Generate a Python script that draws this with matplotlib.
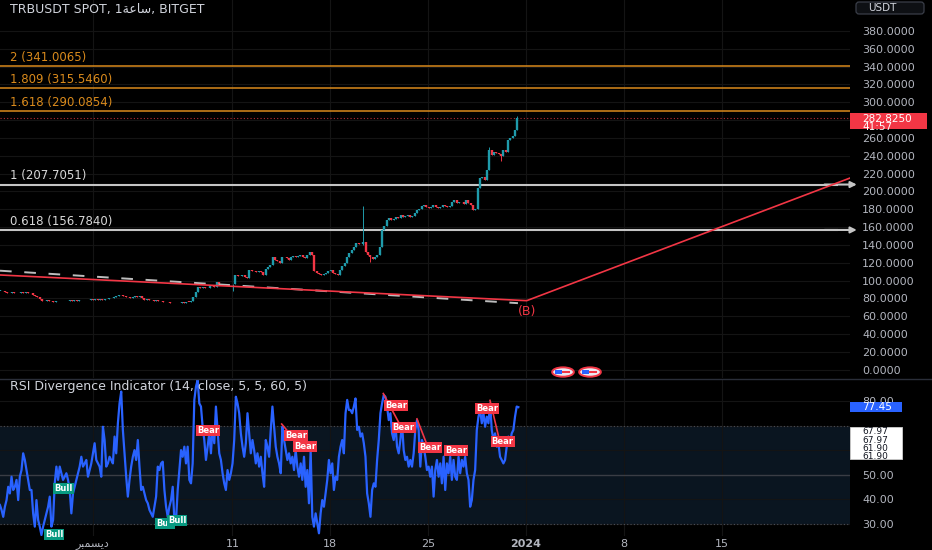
import matplotlib
matplotlib.use('Agg')
import matplotlib.pyplot as plt
import matplotlib.dates as mdates
import matplotlib.ticker as mticker
from matplotlib.transforms import IdentityTransform
from matplotlib.patches import Rectangle, Ellipse, FancyBboxPatch
from matplotlib.lines import Line2D
import numpy as np
import pandas as pd

# ---------------- data ----------------
symbol_title = "TRBUSDT SPOT, 1\uFE94\uFECB\uFE8E\uFEB3, BITGET"
rsi_title = "RSI Divergence Indicator (14, close, 5, 5, 60, 5)"

candle_start = '2023-11-24 09:00'
close = [
    88.7, 88.0, 87.2, 86.5, 86.0, 86.8, 86.2, 85.8, 86.5, 86.9,
    86.4, 87.0, 86.6, 85.9, 84.0, 83.2, 82.0, 79.5, 77.5, 77.0,
    77.8, 76.8, 77.4, 76.2, 76.9, 77.5, 76.8, 77.3, 76.6, 77.6,
    77.9, 77.2, 78.0, 77.4, 77.9, 78.4, 77.8, 78.5, 78.2, 78.9,
    78.4, 79.0, 78.6, 79.2, 78.8, 79.5, 79.0, 80.0, 80.6, 81.4,
    82.2, 83.6, 84.3, 82.6, 81.8, 81.2, 81.0, 81.9, 82.5, 81.7,
    83.0, 80.5, 78.6, 78.9, 78.0, 78.5, 77.6, 78.2, 77.3, 76.8,
    76.4, 75.6, 75.9, 75.0, 74.6, 75.2, 74.6, 75.4, 75.8, 75.3,
    76.2, 76.0, 77.0, 82.0, 87.6, 93.2, 91.8, 93.0, 92.0, 91.5,
    93.4, 94.3, 92.6, 98.8, 96.0, 95.0, 96.6, 95.4, 96.2, 95.8,
    96.0, 106.3, 104.8, 105.6, 106.3, 104.2, 102.6, 111.9, 110.5, 111.2,
    109.8, 111.0, 109.5, 106.3, 113.0, 114.9, 117.9, 126.8, 123.0, 121.5,
    119.4, 126.8, 126.0, 125.0, 123.1, 126.4, 127.5, 126.8, 128.0, 128.7,
    126.8, 125.6, 128.9, 132.4, 128.7, 111.0, 108.2, 107.3, 106.3, 107.0,
    108.2, 110.5, 111.9, 108.2, 107.0, 106.3, 111.9, 116.0, 120.0, 126.8,
    131.0, 134.5, 138.0, 141.8, 140.5, 141.0, 143.6, 132.4, 128.5, 126.8,
    124.5, 127.0, 128.7, 138.0, 157.0, 161.5, 168.0, 170.5, 168.0, 169.5,
    171.7, 170.4, 173.0, 171.7, 172.6, 173.5, 171.7, 172.4, 176.0, 179.2,
    180.0, 183.5, 184.8, 182.9, 181.5, 182.9, 184.8, 183.0, 181.1, 182.9,
    184.8, 183.8, 182.9, 183.7, 188.0, 190.4, 186.7, 188.5, 187.6, 186.0,
    190.4, 187.5, 184.8, 179.2, 180.5, 203.5, 214.7, 216.5, 212.8, 224.0,
    246.7, 241.0, 244.5, 242.9, 241.5, 240.0, 246.7, 244.5, 257.6, 259.5,
    262.5, 268.9, 282.825,
]
spike_index = [100, 156, 159, 210, 215, 222]
spike_high = [96.5, 184.0, 128.0, 250.0, 242.0, 284.5]
spike_low = [88.5, 140.0, 121.0, 224.0, 234.0, 276.0]

rsi_start = '2023-11-24 09:00'
rsi_end = '2023-12-31 11:00'
rsi_values = [
    37.7, 35.7, 32.9, 37.0, 39.7, 45.1, 42.4, 49.2, 43.8, 45.1,
    47.9, 39.7, 49.2, 51.9, 58.7, 56.0, 51.9, 47.9, 43.8, 43.8,
    34.3, 28.9, 39.7, 31.6, 28.9, 25.5, 28.9, 31.6, 34.3, 37.0,
    41.1, 28.9, 31.6, 46.5, 53.3, 47.9, 53.3, 50.6, 47.9, 49.2,
    50.6, 47.9, 43.8, 34.3, 42.4, 45.1, 47.9, 50.6, 53.3, 57.3,
    53.3, 54.6, 56.0, 49.2, 51.9, 54.6, 58.7, 62.8, 56.0, 54.6,
    53.3, 49.2, 69.5, 64.1, 53.3, 54.6, 57.3, 56.0, 54.6, 65.5,
    58.7, 70.9, 79.0, 83.8, 68.2, 58.7, 49.2, 41.1, 47.9, 53.3,
    57.3, 60.0, 56.0, 64.1, 53.3, 43.8, 45.1, 42.4, 39.7, 38.4,
    35.7, 34.3, 32.9, 37.0, 41.1, 53.3, 51.9, 54.6, 55.3, 43.8,
    37.0, 32.9, 37.0, 39.7, 45.1, 31.6,
    31.6, 43.8, 51.9, 60.0, 57.3, 61.4, 54.6, 61.4, 47.9, 46.5,
    54.6, 80.4, 85.8, 88.5, 79.0, 77.7, 69.5, 64.1, 56.0, 61.4,
    66.8, 58.7, 69.5, 62.8, 77.7, 68.2, 58.7, 56.0, 50.6, 46.5,
    43.8, 51.9, 47.9, 50.6, 54.6, 64.1, 81.7, 79.0, 75.0, 66.8,
    61.4, 57.3, 62.8, 75.0, 66.8, 58.7, 64.1, 60.0, 54.6, 58.7,
    53.3, 57.3, 50.6, 45.1, 64.1, 61.4, 57.3, 68.2, 77.7, 69.5,
    61.4, 57.3, 54.6, 50.6, 69.5, 64.1, 60.0, 56.0, 58.7, 54.6,
    57.3, 51.9, 60.0, 53.3, 49.2, 54.6, 47.9, 57.3, 45.1, 51.9,
    38.4, 60.0, 32.9, 28.9, 34.3, 30.2, 26.2, 34.3, 39.7, 37.0,
    42.4, 47.9, 56.0, 50.6, 54.6, 43.8, 49.2, 47.9, 57.3, 61.4,
    64.1, 58.7, 75.0, 80.4, 76.3,
    76.3, 75.0, 77.7, 81.0, 68.2, 69.5, 65.5, 66.8, 62.8, 57.3,
    42.4, 38.4, 32.9, 43.8, 46.5, 45.1, 56.0, 64.1, 75.0, 79.0,
    82.4, 81.7, 77.7, 72.2, 75.0, 66.8, 64.1, 70.9, 61.4, 58.7,
    64.1, 70.9, 60.0, 56.0, 57.3, 53.3, 56.0, 53.3, 58.7, 68.2,
    72.2, 68.2, 53.3, 64.1, 61.4, 57.3, 51.9, 53.3, 49.2, 53.3,
    41.1, 51.9, 56.0, 49.2, 54.6, 46.5, 57.3, 43.8, 54.6, 50.6,
    57.3, 47.9, 56.0, 49.2, 47.9, 57.3, 50.6, 56.0, 53.3, 57.3,
    50.6, 47.9, 37.0, 39.7, 47.9, 51.9, 68.2, 73.6, 76.3, 70.9,
    75.0, 69.5, 73.6, 70.9, 79.0, 68.2, 64.1, 66.8, 61.4, 62.8,
    57.3, 56.0, 54.6, 56.0, 61.4, 65.5, 62.8, 66.8, 68.2, 73.6,
    77.7, 77.45,
]

fib_ratios = ['2', '1.809', '1.618', '1', '0.618']
fib_prices = [341.0065, 315.5460, 290.0854, 207.7051, 156.7840]

wave_dates = ['2023-11-24 09:10', '2024-01-01 01:20', '2024-01-24 04:20']
wave_prices = [106.3, 77.5, 215.0]
dash_dates = ['2023-11-24 09:10', '2023-12-31 10:20']
dash_prices = [111.1, 74.7]
wave_label = '(B)'
wave_label_date = '2024-01-01 01:20'
wave_label_price = 65.9

event_dates = ['2024-01-03 15:40', '2024-01-05 14:00']
event_level = -2.5

bear_label_dates = ['2023-12-09 06:15', '2023-12-15 13:20', '2023-12-16 04:50',
                    '2023-12-22 17:00', '2023-12-23 06:00', '2023-12-25 03:20',
                    '2023-12-27 00:00', '2023-12-29 05:15', '2023-12-30 08:00']
bear_label_values = [67.8, 65.8, 61.3, 78.0, 69.2, 61.1, 59.7, 77.0, 63.5]
bull_label_dates = ['2023-11-28 22:20', '2023-11-28 06:00', '2023-12-06 04:30', '2023-12-07 01:00']
bull_label_values = [44.6, 25.9, 30.0, 31.3]
bear_line_start_dates = ['2023-12-14 12:45', '2023-12-21 19:10', '2023-12-24 05:00', '2023-12-29 10:20']
bear_line_start_values = [70.6, 83.0, 72.7, 80.2]
bear_line_end_dates = ['2023-12-15 20:10', '2023-12-23 00:00', '2023-12-24 22:20', '2023-12-30 02:00']
bear_line_end_values = [61.7, 70.2, 62.1, 64.6]

readout_values = [67.97, 67.97, 61.90, 61.90]
countdown = '41:57'

price_ticks = list(range(0, 381, 20))
price_hidden_ticks = [280]          # covered by the last-price tag
rsi_ticks = [30, 40, 50, 60, 70, 80]
rsi_hidden_ticks = [60, 70]         # covered by the readout box
time_tick_dates = ['2023-12-01', '2023-12-11', '2023-12-18', '2023-12-25',
                   '2024-01-01', '2024-01-08', '2024-01-15']
time_tick_labels = ['\uFEAE\uFE92\uFEE4\uFEB4\uFEF3\uFEA9', '11', '18', '25', '2024', '8', '15']

view_start = '2023-11-24 09:10'
view_end = '2024-01-24 04:20'

# ---------------- helpers ----------------
def dn(s):
    return mdates.date2num(pd.Timestamp(s).to_pydatetime())

def dnl(lst):
    return np.array([dn(s) for s in lst])

W, H = 932, 550
BG = '#000000'
TXT = '#b2b5be'
RED = '#f23645'
GREEN = '#089981'
UP = '#1f9bab'
ORANGE = '#d98a1c'
GRAY_LINE = '#c4c4c4'
BLUE = '#2962ff'
GRID = '#141414'

fig = plt.figure(figsize=(W / 100, H / 100), dpi=100)
fig.patch.set_facecolor(BG)
ax = fig.add_axes([0, 1 - 378 / H, 850 / W, 378 / H])
axr = fig.add_axes([0, 1 - 536 / H, 850 / W, 157 / H])
for a in (ax, axr):
    a.set_facecolor(BG)
    for s in a.spines.values():
        s.set_visible(False)
    a.set_xlim(dn(view_start), dn(view_end))
    a.set_xticks(dnl(time_tick_dates))
    a.grid(True, color=GRID, lw=0.8)
    a.set_axisbelow(True)

# ---------------- price panel ----------------
ax.set_ylim(-9.2, 414.6)
ct = mdates.date2num(pd.date_range(candle_start, periods=len(close), freq='4h').to_pydatetime())
c = np.array(close)
o = np.r_[c[0], c[:-1]]
hi = np.maximum(o, c)
lo = np.minimum(o, c)
wh = hi.copy()
wl = lo.copy()
for k, h_, l_ in zip(spike_index, spike_high, spike_low):
    wh[k] = max(wh[k], h_)
    wl[k] = min(wl[k], l_)
cols = np.where(c >= o, UP, RED)
ax.vlines(ct, wl, wh, colors=cols, lw=0.7, zorder=3)
ax.vlines(ct, lo, np.maximum(hi, lo + 0.6), colors=cols, lw=1.7, zorder=3)

for ratio, lvl in zip(fib_ratios, fib_prices):
    if float(ratio) > 1.5:
        col, lw = ORANGE, 1.1
        ax.axhline(lvl, color=col, lw=lw, zorder=2)
    else:
        col, lw = GRAY_LINE, 1.5
        ax.axhline(lvl, xmax=0.985, color=col, lw=lw, zorder=2)
        ax.annotate('', xy=(1.008, lvl), xycoords=('axes fraction', 'data'),
                    xytext=(0.97, lvl), textcoords=('axes fraction', 'data'),
                    arrowprops=dict(arrowstyle='-|>', color=col, lw=lw, mutation_scale=9,
                                    shrinkA=0, shrinkB=0),
                    annotation_clip=False, zorder=2)
    ax.annotate(f'{ratio} ({lvl:.4f})', xy=(10 / 850, lvl), xycoords=('axes fraction', 'data'),
                xytext=(0, 1.5), textcoords='offset points', ha='left', va='bottom',
                fontsize=8.5, color=col if col == ORANGE else '#d8d8d8')

last_price = close[-1]
ax.axhline(last_price, color=RED, lw=0.8, ls=(0, (1, 2)), alpha=0.75, zorder=1)

ax.plot(dnl(dash_dates), dash_prices, color='#bdbdbd', lw=1.4, dashes=(6, 6.5), zorder=4)
ax.plot(dnl(wave_dates), wave_prices, color=RED, lw=1.2, zorder=4)
ax.text(dn(wave_label_date), wave_label_price, wave_label, color=RED, fontsize=9,
        ha='center', va='center')

for d in event_dates:
    x = dn(d)
    ax.add_patch(Ellipse((x, event_level), 1.55, 10.5, facecolor='#e9e9f2',
                         edgecolor=RED, lw=1.4, zorder=5))
    ax.add_patch(Rectangle((x - 0.55, event_level - 2.6), 0.45, 5.2,
                           facecolor=BLUE, edgecolor='none', zorder=6))
    ax.add_patch(Rectangle((x - 0.05, event_level - 0.6), 0.55, 1.2,
                           facecolor=RED, edgecolor='none', zorder=6))

ax.yaxis.tick_right()
ax.set_yticks(price_ticks)
ax.yaxis.set_major_formatter(mticker.FuncFormatter(
    lambda v, p: '' if round(v) in price_hidden_ticks else f'{v:.4f}'))
ax.tick_params(axis='y', length=0, pad=8.6, labelsize=8, labelcolor=TXT)
ax.tick_params(axis='x', length=0, labelbottom=False)

# ---------------- RSI panel ----------------
axr.set_ylim(25.1, 88.9)
axr.axhspan(30, 70, facecolor='#0a1520', edgecolor='none', zorder=0)
axr.axhline(70, color='#4a4e58', lw=0.8, ls=(0, (1, 2)), zorder=1)
axr.axhline(30, color='#4a4e58', lw=0.8, ls=(0, (1, 2)), zorder=1)
axr.axhline(50, color='#3a3d45', lw=1.0, zorder=1)
rt = mdates.date2num(pd.date_range(rsi_start, rsi_end, periods=len(rsi_values)).to_pydatetime())
axr.plot(rt, rsi_values, color=BLUE, lw=1.6, solid_joinstyle='round', zorder=3)

for s, sv, e, ev in zip(bear_line_start_dates, bear_line_start_values,
                        bear_line_end_dates, bear_line_end_values):
    axr.plot([dn(s), dn(e)], [sv, ev], color=RED, lw=1.2, zorder=4)

def sig(d, v, txt, fc):
    axr.text(dn(d), v, txt, ha='center', va='center', fontsize=6, color='white',
             fontweight='bold', zorder=6,
             bbox=dict(boxstyle='square,pad=0.12', fc=fc, ec='none'))

for d, v in zip(bear_label_dates, bear_label_values):
    sig(d, v, 'Bear', RED)
for d, v in zip(bull_label_dates, bull_label_values):
    sig(d, v, 'Bull', GREEN)

axr.yaxis.tick_right()
axr.set_yticks(rsi_ticks)
axr.yaxis.set_major_formatter(mticker.FuncFormatter(
    lambda v, p: '' if round(v) in rsi_hidden_ticks else f'{v:.2f}'))
axr.tick_params(axis='y', length=0, pad=8.6, labelsize=8, labelcolor=TXT)
axr.set_xticklabels(time_tick_labels)
axr.tick_params(axis='x', length=0, pad=2.5, labelsize=8, labelcolor=TXT)
for lab in axr.get_xticklabels():
    if lab.get_text() == '2024':
        lab.set_fontweight('bold')

# ---------------- overlays in pixel space ----------------
ID = IdentityTransform()

def ptext(x, y, s, **kw):
    fig.text(x, H - y, s, transform=ID, **kw)

ptext(10, 9, symbol_title, fontsize=9, color='#d1d4dc', va='center', ha='left')
ptext(10, 386.5, rsi_title, fontsize=9, color='#d1d4dc', va='center', ha='left')

fig.add_artist(Line2D([0, W], [H - 378.5, H - 378.5], transform=ID, color='#2a2e39', lw=1))

fig.add_artist(FancyBboxPatch((856, H - 14), 68, 12, boxstyle='round,pad=0,rounding_size=3',
                              fc='#0e1014', ec='#3a3e48', lw=0.9, transform=ID))
ptext(882, 8, 'USDT', fontsize=7.5, color='#d1d4dc', va='center', ha='center')

ypd = ax.transData.transform((0, last_price))[1]
fig.add_artist(Rectangle((850, ypd - 11), 77, 16, transform=ID, fc=RED, ec='none'))
fig.text(862, ypd + 4, f'{last_price:.4f}\n{countdown}', transform=ID, fontsize=7.5,
         color='white', va='top', ha='left', linespacing=0.85)

yrd = axr.transData.transform((0, rsi_values[-1]))[1]
fig.add_artist(Rectangle((850, yrd - 5), 52, 10, transform=ID, fc=BLUE, ec='none'))
fig.text(862, yrd, f'{rsi_values[-1]:.2f}', transform=ID, fontsize=7.5, color='white', va='center')

fig.add_artist(Rectangle((850, H - 459), 52, 32, transform=ID, fc='white', ec='#cfcfcf', lw=0.6))
ptext(862, 427.5, '\n'.join(f'{v:.2f}' for v in readout_values), fontsize=6.5,
      color='#131722', va='top', ha='left', linespacing=0.88)

fig.savefig('out.png', dpi=100, facecolor=BG)
